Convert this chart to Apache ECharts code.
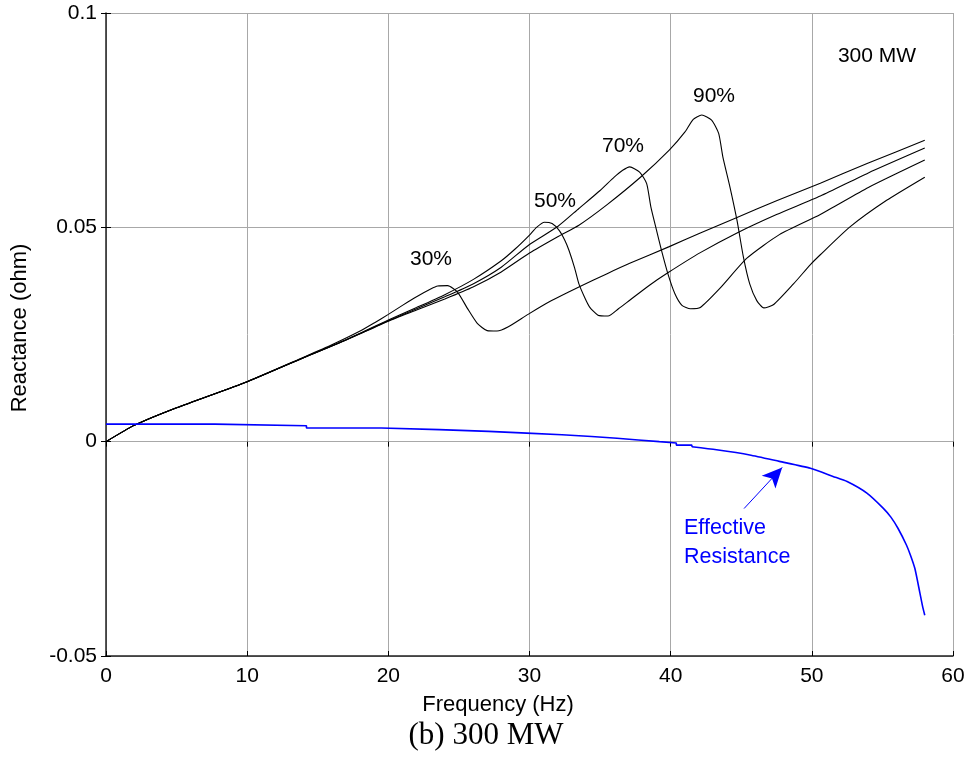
<!DOCTYPE html>
<html>
<head>
<meta charset="utf-8">
<script src="https://cdn.jsdelivr.net/npm/echarts@6/dist/echarts.min.js"></script>
<style>
html,body{margin:0;padding:0;background:#fff;}
#chart{width:974px;height:761px;}
</style>
</head>
<body>
<div id="chart"></div>
<script>
// ---- data ----
var xTicks = [0, 10, 20, 30, 40, 50, 60];
var yTicks = [-0.05, 0, 0.05, 0.1];

var freq30 = [0, 2, 5, 10, 14, 16, 18, 19, 20, 21, 22, 23, 23.5, 24.2, 24.9, 25.6, 26.3, 27.0, 27.7, 28.5, 29.9, 31.5, 33.5, 35.5, 37.1, 39.9, 42.1, 44.7, 47.5, 50.6, 54, 58];
var x30    = [0, 0.0038, 0.0079, 0.0140, 0.0197, 0.0226, 0.0258, 0.0277, 0.0297, 0.0318, 0.0338, 0.0356, 0.0363, 0.0364, 0.0349, 0.0311, 0.0276, 0.0259, 0.0258, 0.0268, 0.0297, 0.0328, 0.0361, 0.0392, 0.0416, 0.0455, 0.0487, 0.0523, 0.0562, 0.0603, 0.0650, 0.0703];

var freq50 = [0, 2, 5, 10, 14, 17, 20, 22, 24, 26, 28, 29, 30, 30.5, 31.06, 31.6, 32.1, 32.5, 32.8, 33.2, 33.5, 33.9, 34.26, 34.85, 35.56, 36.3, 37.1, 38.5, 39.8, 42.1, 44.7, 47.5, 50.6, 54, 58];
var x50    = [0, 0.0038, 0.0079, 0.0140, 0.0196, 0.0238, 0.0284, 0.0313, 0.0343, 0.0378, 0.0422, 0.0450, 0.0482, 0.0500, 0.0512, 0.0509, 0.0493, 0.0470, 0.0446, 0.0405, 0.0368, 0.0337, 0.0314, 0.0295, 0.0293, 0.0310, 0.0330, 0.0365, 0.0394, 0.0441, 0.0487, 0.0530, 0.0573, 0.0627, 0.0685];

var freq70 = [0, 2, 5, 10, 14, 17, 20, 22, 24, 26, 28, 30, 32, 33.5, 35, 36, 36.6, 37.1, 37.8, 38.3, 38.6, 39.0, 39.35, 39.8, 40.3, 40.8, 41.4, 42.1, 43.5, 45.4, 47.7, 50.6, 54, 58];
var x70    = [0, 0.0038, 0.0079, 0.0140, 0.0196, 0.0237, 0.0282, 0.0310, 0.0338, 0.0368, 0.0407, 0.0460, 0.0502, 0.0544, 0.0586, 0.0617, 0.0633, 0.0641, 0.0629, 0.0602, 0.0547, 0.0493, 0.0446, 0.0392, 0.0345, 0.0318, 0.0310, 0.0313, 0.0358, 0.0428, 0.0483, 0.0530, 0.0593, 0.0657];

var freq90 = [0, 2, 5, 10, 14, 17, 20, 22, 24, 26, 28, 30, 32, 33.5, 35.5, 37.9, 39.9, 41.0, 41.6, 42.2, 42.9, 43.4, 43.7, 44.2, 44.7, 45.15, 45.6, 46.1, 46.6, 47.3, 48.7, 49.9, 50.6, 52.7, 55.3, 58];
var x90    = [0, 0.0038, 0.0079, 0.0140, 0.0196, 0.0237, 0.0281, 0.0307, 0.0333, 0.0361, 0.0396, 0.0440, 0.0478, 0.0505, 0.0553, 0.0618, 0.0680, 0.0722, 0.0752, 0.0762, 0.0750, 0.0719, 0.0664, 0.0594, 0.0516, 0.0431, 0.0368, 0.0329, 0.0312, 0.0320, 0.0368, 0.0413, 0.0436, 0.0501, 0.0563, 0.0617];

// effective resistance: staircase part then smooth tail
var resStepF = [0, 7.7, 14.2, 19.5, 23.6, 27.1, 29.8, 32.3, 34.4, 36.2, 37.7, 39.2, 40.4, 41.5];
var resStepV = [0.0041, 0.0037, 0.0032, 0.0028, 0.0024, 0.0020, 0.0016, 0.0012, 0.0008, 0.0004, 0.0000, -0.0003, -0.0008, -0.0012];
var resTailF = [41.5, 43.25, 45.6, 47.7, 49.9, 51.5, 52.5, 53.9, 55.05, 55.6, 56.1, 56.7, 57.0, 57.3, 57.65, 57.85, 58.0];
var resTailV = [-0.0012, -0.0019, -0.0031, -0.0046, -0.0062, -0.0081, -0.0093, -0.0120, -0.0155, -0.0176, -0.0202, -0.0241, -0.0266, -0.0296, -0.0352, -0.0385, -0.0405];

var curveLabels = ['30%', '50%', '70%', '90%'];
var arrowFrom = [45.2, -0.0156];
var arrowTo = [47.9, -0.0060];

// ---- chart ----
function pairs(a, b) { return a.map(function (v, i) { return [v, b[i]]; }); }

var FONT = 'Liberation Sans, Arial, Helvetica, sans-serif';
var chart = echarts.init(document.getElementById('chart'), null, {renderer: 'canvas'});

function blackSeries(name, f, v) {
  return {
    name: name, type: 'line', data: pairs(f, v), showSymbol: false, symbol: 'none',
    smooth: 0.2,
    lineStyle: {color: '#000', width: 1.1}, silent: true, z: 3
  };
}

var option = {
  animation: false,
  backgroundColor: '#fff',
  grid: {left: 106, right: 21, top: 13, bottom: 105, containLabel: false},
  xAxis: [{
    type: 'value', min: xTicks[0], max: xTicks[xTicks.length - 1], interval: 10,
    axisLine: {show: true, onZero: false, lineStyle: {color: '#222', width: 1.5}},
    axisTick: {show: true, inside: true, length: 5, lineStyle: {color: '#000'}},
    axisLabel: {color: '#000', fontSize: 21, fontFamily: FONT, margin: 10},
    splitLine: {show: true, lineStyle: {color: '#a8a8a8', width: 1}}
  }, {
    type: 'value', position: 'top', min: xTicks[0], max: xTicks[xTicks.length - 1], interval: 10,
    axisLine: {show: false}, axisLabel: {show: false}, splitLine: {show: false},
    axisTick: {show: true, inside: true, length: 5, lineStyle: {color: '#000'}}
  }],
  yAxis: [{
    type: 'value', min: yTicks[0], max: yTicks[yTicks.length - 1], interval: 0.05,
    axisLine: {show: true, onZero: false, lineStyle: {color: '#222', width: 1.5}},
    axisTick: {show: true, inside: true, length: 5, lineStyle: {color: '#000'}},
    axisLabel: {color: '#000', fontSize: 21, fontFamily: FONT, margin: 9},
    splitLine: {show: true, lineStyle: {color: '#a8a8a8', width: 1}}
  }, {
    type: 'value', position: 'right', min: yTicks[0], max: yTicks[yTicks.length - 1], interval: 0.05,
    axisLine: {show: false}, axisLabel: {show: false}, splitLine: {show: false},
    axisTick: {show: true, inside: true, length: 5, lineStyle: {color: '#000'}}
  }],
  series: [
    blackSeries(curveLabels[0], freq30, x30),
    blackSeries(curveLabels[1], freq50, x50),
    blackSeries(curveLabels[2], freq70, x70),
    blackSeries(curveLabels[3], freq90, x90),
    {
      name: 'Effective Resistance', type: 'line', step: 'end', data: pairs(resStepF, resStepV),
      showSymbol: false, symbol: 'none', silent: true, z: 4,
      lineStyle: {color: '#0000ff', width: 1.6}
    },
    {
      name: 'Effective Resistance tail', type: 'line', data: pairs(resTailF, resTailV),
      showSymbol: false, symbol: 'none', silent: true, z: 4,
      smooth: 0.2,
      lineStyle: {color: '#0000ff', width: 1.6},
      markLine: {
        silent: true, animation: false,
        symbol: ['none', 'arrow'], symbolSize: [14, 20],
        label: {show: false},
        lineStyle: {color: '#0000ff', width: 1, type: 'solid'},
        data: [[{coord: arrowFrom}, {coord: arrowTo}]]
      }
    }
  ],
  graphic: [
    {type: 'text', x: 431, y: 259, silent: true, style: {text: curveLabels[0], fill: '#000', fontSize: 21, fontFamily: FONT, align: 'center', verticalAlign: 'middle'}},
    {type: 'text', x: 555, y: 201, silent: true, style: {text: curveLabels[1], fill: '#000', fontSize: 21, fontFamily: FONT, align: 'center', verticalAlign: 'middle'}},
    {type: 'text', x: 623, y: 146, silent: true, style: {text: curveLabels[2], fill: '#000', fontSize: 21, fontFamily: FONT, align: 'center', verticalAlign: 'middle'}},
    {type: 'text', x: 714, y: 96, silent: true, style: {text: curveLabels[3], fill: '#000', fontSize: 21, fontFamily: FONT, align: 'center', verticalAlign: 'middle'}},
    {type: 'text', x: 877, y: 56, silent: true, style: {text: '300 MW', fill: '#000', fontSize: 21, fontFamily: FONT, align: 'center', verticalAlign: 'middle'}},
    {type: 'text', x: 684, y: 528, silent: true, style: {text: 'Effective', fill: '#0000ff', fontSize: 21.5, fontFamily: FONT, align: 'left', verticalAlign: 'middle'}},
    {type: 'text', x: 684, y: 557, silent: true, style: {text: 'Resistance', fill: '#0000ff', fontSize: 21.5, fontFamily: FONT, align: 'left', verticalAlign: 'middle'}},
    {type: 'text', x: 498, y: 705, silent: true, style: {text: 'Frequency (Hz)', fill: '#000', fontSize: 22, fontFamily: FONT, align: 'center', verticalAlign: 'middle'}},
    {type: 'text', x: 20, y: 328, rotation: Math.PI / 2, silent: true, style: {text: 'Reactance (ohm)', fill: '#000', fontSize: 22, fontFamily: FONT, align: 'center', verticalAlign: 'middle'}},
    {type: 'text', x: 486, y: 736, silent: true, style: {text: '(b) 300 MW', fill: '#000', fontSize: 31, fontFamily: 'Liberation Serif, Times New Roman, serif', align: 'center', verticalAlign: 'middle'}}
  ]
};
chart.setOption(option);
</script>
</body>
</html>
